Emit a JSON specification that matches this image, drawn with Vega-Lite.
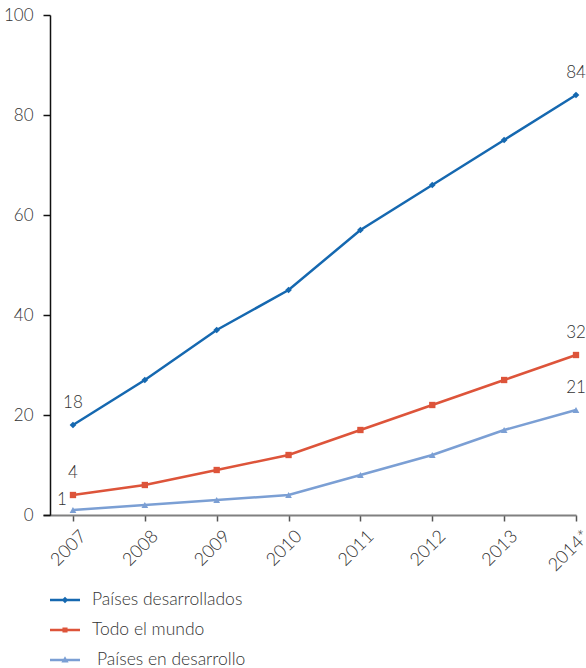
{
  "$schema": "https://vega.github.io/schema/vega-lite/v6.json",
  "width": 533,
  "height": 500,
  "autosize": {"type": "none"},
  "padding": {"left": 43, "top": 15, "right": 10, "bottom": 153},
  "config": {
    "view": {"stroke": null},
    "font": "Lato",
    "text": {"font": "Lato", "fontWeight": 300}
  },
  "data": {
    "values": [
      {"year": 2007, "series": "Países desarrollados", "value": 18, "lbl": "18"},
      {"year": 2008, "series": "Países desarrollados", "value": 27},
      {"year": 2009, "series": "Países desarrollados", "value": 37},
      {"year": 2010, "series": "Países desarrollados", "value": 45},
      {"year": 2011, "series": "Países desarrollados", "value": 57},
      {"year": 2012, "series": "Países desarrollados", "value": 66},
      {"year": 2013, "series": "Países desarrollados", "value": 75},
      {"year": 2014, "series": "Países desarrollados", "value": 84, "lbl": "84"},
      {"year": 2007, "series": "Todo el mundo", "value": 4, "lbl": "4"},
      {"year": 2008, "series": "Todo el mundo", "value": 6},
      {"year": 2009, "series": "Todo el mundo", "value": 9},
      {"year": 2010, "series": "Todo el mundo", "value": 12},
      {"year": 2011, "series": "Todo el mundo", "value": 17},
      {"year": 2012, "series": "Todo el mundo", "value": 22},
      {"year": 2013, "series": "Todo el mundo", "value": 27},
      {"year": 2014, "series": "Todo el mundo", "value": 32, "lbl": "32"},
      {"year": 2007, "series": "Países en desarrollo", "value": 1, "lbl": "1"},
      {"year": 2008, "series": "Países en desarrollo", "value": 2},
      {"year": 2009, "series": "Países en desarrollo", "value": 3},
      {"year": 2010, "series": "Países en desarrollo", "value": 4},
      {"year": 2011, "series": "Países en desarrollo", "value": 8},
      {"year": 2012, "series": "Países en desarrollo", "value": 12},
      {"year": 2013, "series": "Países en desarrollo", "value": 17},
      {"year": 2014, "series": "Países en desarrollo", "value": 21, "lbl": "21"}
    ]
  },
  "encoding": {
    "x": {
      "field": "year", "type": "quantitative",
      "scale": {"domain": [2006.583, 2014], "nice": false, "zero": false},
      "axis": {
        "title": null, "values": [2007, 2008, 2009, 2010, 2011, 2012, 2013, 2014],
        "labelExpr": "datum.value == 2014 ? '2014*' : toString(datum.value)",
        "grid": false, "domainColor": "#808080", "domainWidth": 2,
        "tickColor": "#555555", "tickSize": 6, "tickWidth": 1.5,
        "labelAngle": -45, "labelAlign": "right", "labelBaseline": "top",
        "labelPadding": 6, "labelOffset": 4, "labelFont": "Lato", "labelFontWeight": 300,
        "labelFontSize": 18, "labelColor": "#333333", "labelOverlap": false, "labelBound": false
      }
    },
    "y": {
      "field": "value", "type": "quantitative",
      "scale": {"domain": [0, 100], "nice": false},
      "axis": {
        "title": null, "values": [0, 20, 40, 60, 80, 100], "grid": false,
        "offset": -7, "domainColor": "#111111", "domainWidth": 1.5,
        "tickColor": "#111111", "tickSize": 7, "tickWidth": 1.5,
        "labelPadding": 10, "labelFont": "Lato", "labelFontWeight": 300,
        "labelFontSize": 17, "labelColor": "#333333"
      }
    },
    "color": {
      "field": "series", "type": "nominal",
      "scale": {
        "domain": ["Países desarrollados", "Todo el mundo", "Países en desarrollo"],
        "range": ["#1568b0", "#dd543a", "#7b9fd4"]
      },
      "legend": {
        "title": null, "orient": "none", "legendX": 7, "legendY": 570,
        "direction": "vertical", "symbolSize": 900, "symbolStrokeWidth": 0,
        "labelFont": "Lato", "labelFontWeight": 300, "labelFontSize": 17.5,
        "labelColor": "#333333", "labelOffset": 12, "rowPadding": 6,
        "encode": {
          "labels": {
            "update": {
              "dx": {"signal": "datum.value == 'Países en desarrollo' ? 5 : 0"}
            }
          },
          "symbols": {
            "update": {
              "shape": {"signal": "datum.value == 'Países desarrollados' ? 'M-1,-0.08H1V0.08H-1Z M0,-0.22L0.22,0L0,0.22L-0.22,0Z' : datum.value == 'Todo el mundo' ? 'M-1,-0.08H1V0.08H-1Z M-0.17,-0.17H0.17V0.17H-0.17Z' : 'M-1,-0.08H1V0.08H-1Z M0,-0.25L0.24,0.17H-0.24Z'"},
              "fill": {"signal": "datum.value == 'Países desarrollados' ? '#1568b0' : datum.value == 'Todo el mundo' ? '#dd543a' : '#7b9fd4'"},
              "stroke": {"value": "transparent"},
              "strokeWidth": {"value": 0},
              "opacity": {"value": 1}
            }
          }
        }
      }
    }
  },
  "layer": [
    {
      "mark": {"type": "line", "strokeWidth": 2.5}
    },
    {
      "transform": [{"filter": "datum.series == 'Países desarrollados'"}],
      "mark": {"type": "point", "filled": true, "opacity": 1, "size": 45, "shape": "diamond"}
    },
    {
      "transform": [{"filter": "datum.series == 'Todo el mundo'"}],
      "mark": {"type": "point", "filled": true, "opacity": 1, "size": 40, "shape": "square"}
    },
    {
      "transform": [{"filter": "datum.series == 'Países en desarrollo'"}],
      "mark": {"type": "point", "filled": true, "opacity": 1, "size": 45, "shape": "triangle-up"}
    },
    {
      "transform": [{"filter": "datum.lbl != null && datum.lbl != '1'"}],
      "mark": {"type": "text", "dy": -22, "fontSize": 17, "font": "Lato", "fontWeight": 300},
      "encoding": {"text": {"field": "lbl"}, "color": {"value": "#333333"}}
    },
    {
      "transform": [{"filter": "datum.lbl == '1'"}],
      "mark": {"type": "text", "dx": -11, "dy": -10, "fontSize": 17, "font": "Lato", "fontWeight": 300},
      "encoding": {"text": {"field": "lbl"}, "color": {"value": "#333333"}}
    }
  ]
}
